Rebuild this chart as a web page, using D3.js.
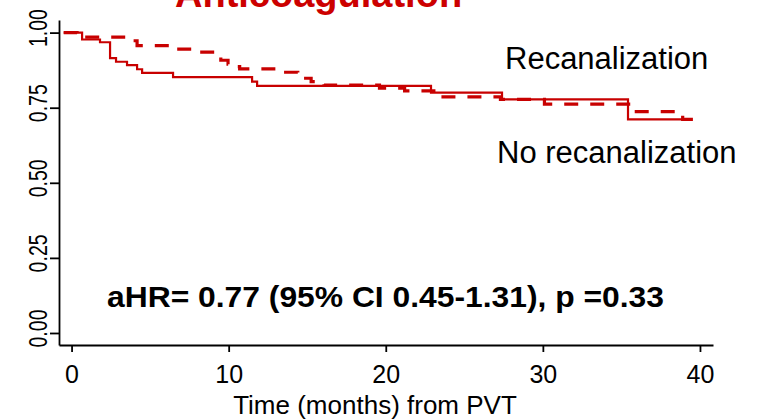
<!DOCTYPE html>
<html>
<head>
<meta charset="utf-8">
<script src="https://cdn.jsdelivr.net/npm/d3@7"></script>
<style>
  html, body { margin: 0; padding: 0; background: #fff; }
  svg { display: block; font-family: "Liberation Sans", Arial, Helvetica, sans-serif; }
</style>
</head>
<body>
<svg id="chart" width="764" height="419"></svg>
<script>
// Kaplan-Meier estimates, months from PVT diagnosis
const recanTimes = [-0.5, 0.35, 0.86, 3.6, 4.17, 6.59, 8.18, 9.2, 9.5, 9.96, 10.2, 10.7, 13.5, 14.4, 15.25, 16.07, 19.6, 21.2, 23.5, 27.3, 30.1, 35.7, 38.9, 39.9];
const recanSurv  = [1.0, 0.993, 0.985, 0.973, 0.957, 0.945, 0.935, 0.922, 0.908, 0.895, 0.887, 0.879, 0.868, 0.848, 0.837, 0.825, 0.815, 0.806, 0.786, 0.778, 0.762, 0.737, 0.711, 0.711];

const noRecanTimes = [-0.5, 0.67, 1.81, 2.45, 2.83, 3.53, 4.17, 4.49, 6.46, 11.49, 11.81, 22.88, 27.4, 35.42, 39.4];
const noRecanSurv  = [1.0, 0.977, 0.968, 0.915, 0.903, 0.892, 0.878, 0.866, 0.852, 0.837, 0.823, 0.800, 0.778, 0.711, 0.711];

const timeTicks = [0, 10, 20, 30, 40];
const survTicks = [0, 0.25, 0.5, 0.75, 1.0];
const survTickLabels = ["0.00", "0.25", "0.50", "0.75", "1.00"];

const titleText = "Anticoagulation";
const xTitle = "Time (months) from PVT";
const recanLabel = "Recanalization";
const noRecanLabel = "No recanalization";
const statsText = "aHR= 0.77 (95% CI 0.45-1.31), p =0.33";

const red = "#c80000";

const svg = d3.select("#chart");

const x = d3.scaleLinear().domain([-0.8, 40.83]).range([59, 713]);
const y = d3.scaleLinear().domain([-0.04, 1.042]).range([345, 20]);

// Axes
const xAxis = svg.append("g")
  .attr("transform", `translate(0,${y(-0.04)})`)
  .call(d3.axisBottom(x).tickValues(timeTicks).tickSize(7).tickSizeOuter(0).tickFormat(d3.format("d")));
xAxis.selectAll("path, line").attr("stroke", "#000").attr("stroke-width", 1.8);
xAxis.selectAll("text")
  .attr("y", 38).attr("dy", 0)
  .attr("fill", "#000")
  .style("font-size", "25px")
  .style("font-family", "'Liberation Sans', Arial, sans-serif");

const yAxis = svg.append("g")
  .attr("transform", `translate(${x(-0.8)},0)`)
  .call(d3.axisLeft(y).tickValues(survTicks).tickSize(9).tickSizeOuter(0)
    .tickFormat((d, i) => survTickLabels[i]));
yAxis.selectAll("path, line").attr("stroke", "#000").attr("stroke-width", 1.8);
yAxis.selectAll("text")
  .attr("transform", "rotate(-90)")
  .attr("x", 5).attr("y", -12).attr("dy", 0)
  .attr("text-anchor", "middle")
  .attr("fill", "#000")
  .attr("textLength", 38)
  .attr("lengthAdjust", "spacingAndGlyphs")
  .style("font-size", "26px")
  .style("font-family", "'Liberation Sans', Arial, sans-serif");

// Step curves
const stepLine = d3.line()
  .x(d => x(d[0]))
  .y(d => y(d[1]))
  .curve(d3.curveStepAfter);

const noRecanData = noRecanTimes.map((t, i) => [t, noRecanSurv[i]]);
const recanData = recanTimes.map((t, i) => [t, recanSurv[i]]);

svg.append("path")
  .datum(noRecanData)
  .attr("d", stepLine)
  .attr("fill", "none")
  .attr("stroke", red)
  .attr("stroke-width", 2.2);

svg.append("path")
  .datum(recanData)
  .attr("d", stepLine)
  .attr("fill", "none")
  .attr("stroke", red)
  .attr("stroke-width", 3.2)
  .attr("stroke-dasharray", "14,12");

// Texts
svg.append("text")
  .attr("x", 175).attr("y", 7)
  .attr("fill", "#cc0000")
  .style("font-size", "38px")
  .style("font-weight", "bold")
  .text(titleText);

svg.append("text")
  .attr("x", 505).attr("y", 69)
  .attr("fill", "#000")
  .style("font-size", "31px")
  .text(recanLabel);

svg.append("text")
  .attr("x", 497).attr("y", 163)
  .attr("fill", "#000")
  .style("font-size", "31px")
  .text(noRecanLabel);

svg.append("text")
  .attr("x", 107).attr("y", 307)
  .attr("fill", "#000")
  .attr("textLength", 557)
  .attr("lengthAdjust", "spacingAndGlyphs")
  .style("font-size", "30px")
  .style("font-weight", "bold")
  .text(statsText);

svg.append("text")
  .attr("x", 375).attr("y", 414)
  .attr("text-anchor", "middle")
  .attr("fill", "#000")
  .style("font-size", "26px")
  .text(xTitle);
</script>
</body>
</html>
